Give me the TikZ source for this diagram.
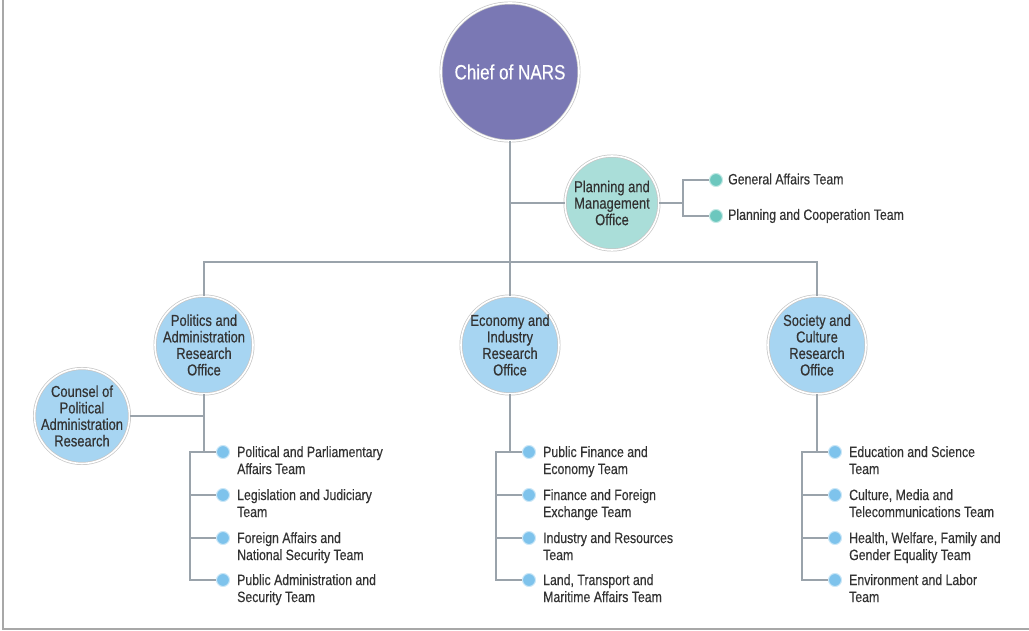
\documentclass[tikz,border=0pt]{standalone}
\usepackage{fontspec}
\setmainfont{Liberation Sans}[FakeStretch=0.82, FakeBold=0.4]
\usetikzlibrary{positioning}
\definecolor{chiefc}{HTML}{7A78B4}
\definecolor{planc}{HTML}{AADED9}
\definecolor{offc}{HTML}{A7D5F2}
\definecolor{bdot}{HTML}{7EC3EC}
\definecolor{tdot}{HTML}{6CC7BE}
\definecolor{txt}{HTML}{333333}
\definecolor{linec}{HTML}{9AA3AB}
\definecolor{framec}{HTML}{A8A8A8}
\tikzset{
  x=1pt, y=-1pt,
  conn/.style={draw=linec, line width=1.2pt},
  bigcirc/.style={circle, draw=gray!45, double=white, double distance=1.6pt, line width=0.7pt, inner sep=-12pt, align=center, text=txt},
  dotb/.style={circle, fill=bdot, draw=bdot!40, line width=1pt, minimum size=13pt, inner sep=0pt},
  dott/.style={circle, fill=tdot, draw=tdot!40, line width=1pt, minimum size=13pt, inner sep=0pt},
  team/.style={anchor=west, align=left, text=txt, font=\fontsize{15}{17}\selectfont, inner sep=0pt},
  circtext/.style={font=\fontsize{15.8}{16.5}\selectfont},
}
\begin{document}
\begin{tikzpicture}
\useasboundingbox (0,0) rectangle (1029,631);
\draw[framec, line width=2pt] (2.5,0) -- (2.5,628.5) -- (1029,628.5);

% main circles
\node[bigcirc, fill=chiefc, minimum size=138pt, text=white, font=\fontsize{20.8}{24}\selectfont] (chief) at (510,72) {Chief of NARS};
\node[bigcirc, fill=planc, minimum size=94pt, circtext] (plan) at (612,203) {Planning and\\Management\\Office};
\node[bigcirc, fill=offc, minimum size=98pt, circtext] (pol) at (204,345) {Politics and\\Administration\\Research\\Office};
\node[bigcirc, fill=offc, minimum size=98pt, circtext] (eco) at (510,345) {Economy and\\Industry\\Research\\Office};
\node[bigcirc, fill=offc, minimum size=98pt, circtext] (soc) at (817,345) {Society and\\Culture\\Research\\Office};
\node[bigcirc, fill=offc, minimum size=95pt, circtext] (coun) at (82,416) {Counsel of\\Political\\Administration\\Research};

% junction coordinates
\coordinate (hl) at (204,262);
\coordinate (hr) at (817,262);

% trunk
\draw[conn] (chief.south) -- (eco.north);
\draw[conn] (plan.west) -- (plan.west -| chief.south);
\draw[conn] (pol.north) -- (hl) -- (hr) -- (soc.north);

% planning teams
\node[dott] (g1) at (716,180) {};
\node[dott] (g2) at (716,216) {};
\node[team] (g1t) at (728,179) {General Affairs Team};
\node[team] (g2t) at (728,216) {Planning and Cooperation Team};
\coordinate (gj) at (683,203);
\draw[conn] (plan.east) -- (gj);
\draw[conn] (g1.west) -| (gj) |- (g2.west);

% counsel
\draw[conn] (coun.east) -- (coun.east -| pol.south);

% politics teams
\node[dotb] (p1) at (223,452) {};
\node[dotb] (p2) at (223,495) {};
\node[dotb] (p3) at (223,538) {};
\node[dotb] (p4) at (223,580) {};
\node[team, anchor=north west] (p1t) at (237,446) {Political and Parliamentary\\Affairs Team};
\node[team, anchor=north west] (p2t) at (237,489) {Legislation and Judiciary\\Team};
\node[team, anchor=north west] (p3t) at (237,532) {Foreign Affairs and\\National Security Team};
\node[team, anchor=north west] (p4t) at (237,574) {Public Administration and\\Security Team};
\draw[conn] (pol.south) -- (pol.south |- p1);
\draw[conn] (p1.west) -- ++(-26,0) coordinate (pb) |- (p4.west);
\draw[conn] (p2.west) -- (p2.west -| pb);
\draw[conn] (p3.west) -- (p3.west -| pb);

% economy teams
\node[dotb] (e1) at (529,452) {};
\node[dotb] (e2) at (529,495) {};
\node[dotb] (e3) at (529,538) {};
\node[dotb] (e4) at (529,580) {};
\node[team, anchor=north west] (e1t) at (543,446) {Public Finance and\\Economy Team};
\node[team, anchor=north west] (e2t) at (543,489) {Finance and Foreign\\Exchange Team};
\node[team, anchor=north west] (e3t) at (543,532) {Industry and Resources\\Team};
\node[team, anchor=north west] (e4t) at (543,574) {Land, Transport and\\Maritime Affairs Team};
\draw[conn] (eco.south) -- (eco.south |- e1);
\draw[conn] (e1.west) -- ++(-26,0) coordinate (eb) |- (e4.west);
\draw[conn] (e2.west) -- (e2.west -| eb);
\draw[conn] (e3.west) -- (e3.west -| eb);

% society teams
\node[dotb] (s1) at (835,452) {};
\node[dotb] (s2) at (835,495) {};
\node[dotb] (s3) at (835,538) {};
\node[dotb] (s4) at (835,580) {};
\node[team, anchor=north west] (s1t) at (849,446) {Education and Science\\Team};
\node[team, anchor=north west] (s2t) at (849,489) {Culture, Media and\\Telecommunications Team};
\node[team, anchor=north west] (s3t) at (849,532) {Health, Welfare, Family and\\Gender Equality Team};
\node[team, anchor=north west] (s4t) at (849,574) {Environment and Labor\\Team};
\draw[conn] (soc.south) -- (soc.south |- s1);
\draw[conn] (s1.west) -- ++(-26,0) coordinate (sb) |- (s4.west);
\draw[conn] (s2.west) -- (s2.west -| sb);
\draw[conn] (s3.west) -- (s3.west -| sb);
\end{tikzpicture}
\end{document}
